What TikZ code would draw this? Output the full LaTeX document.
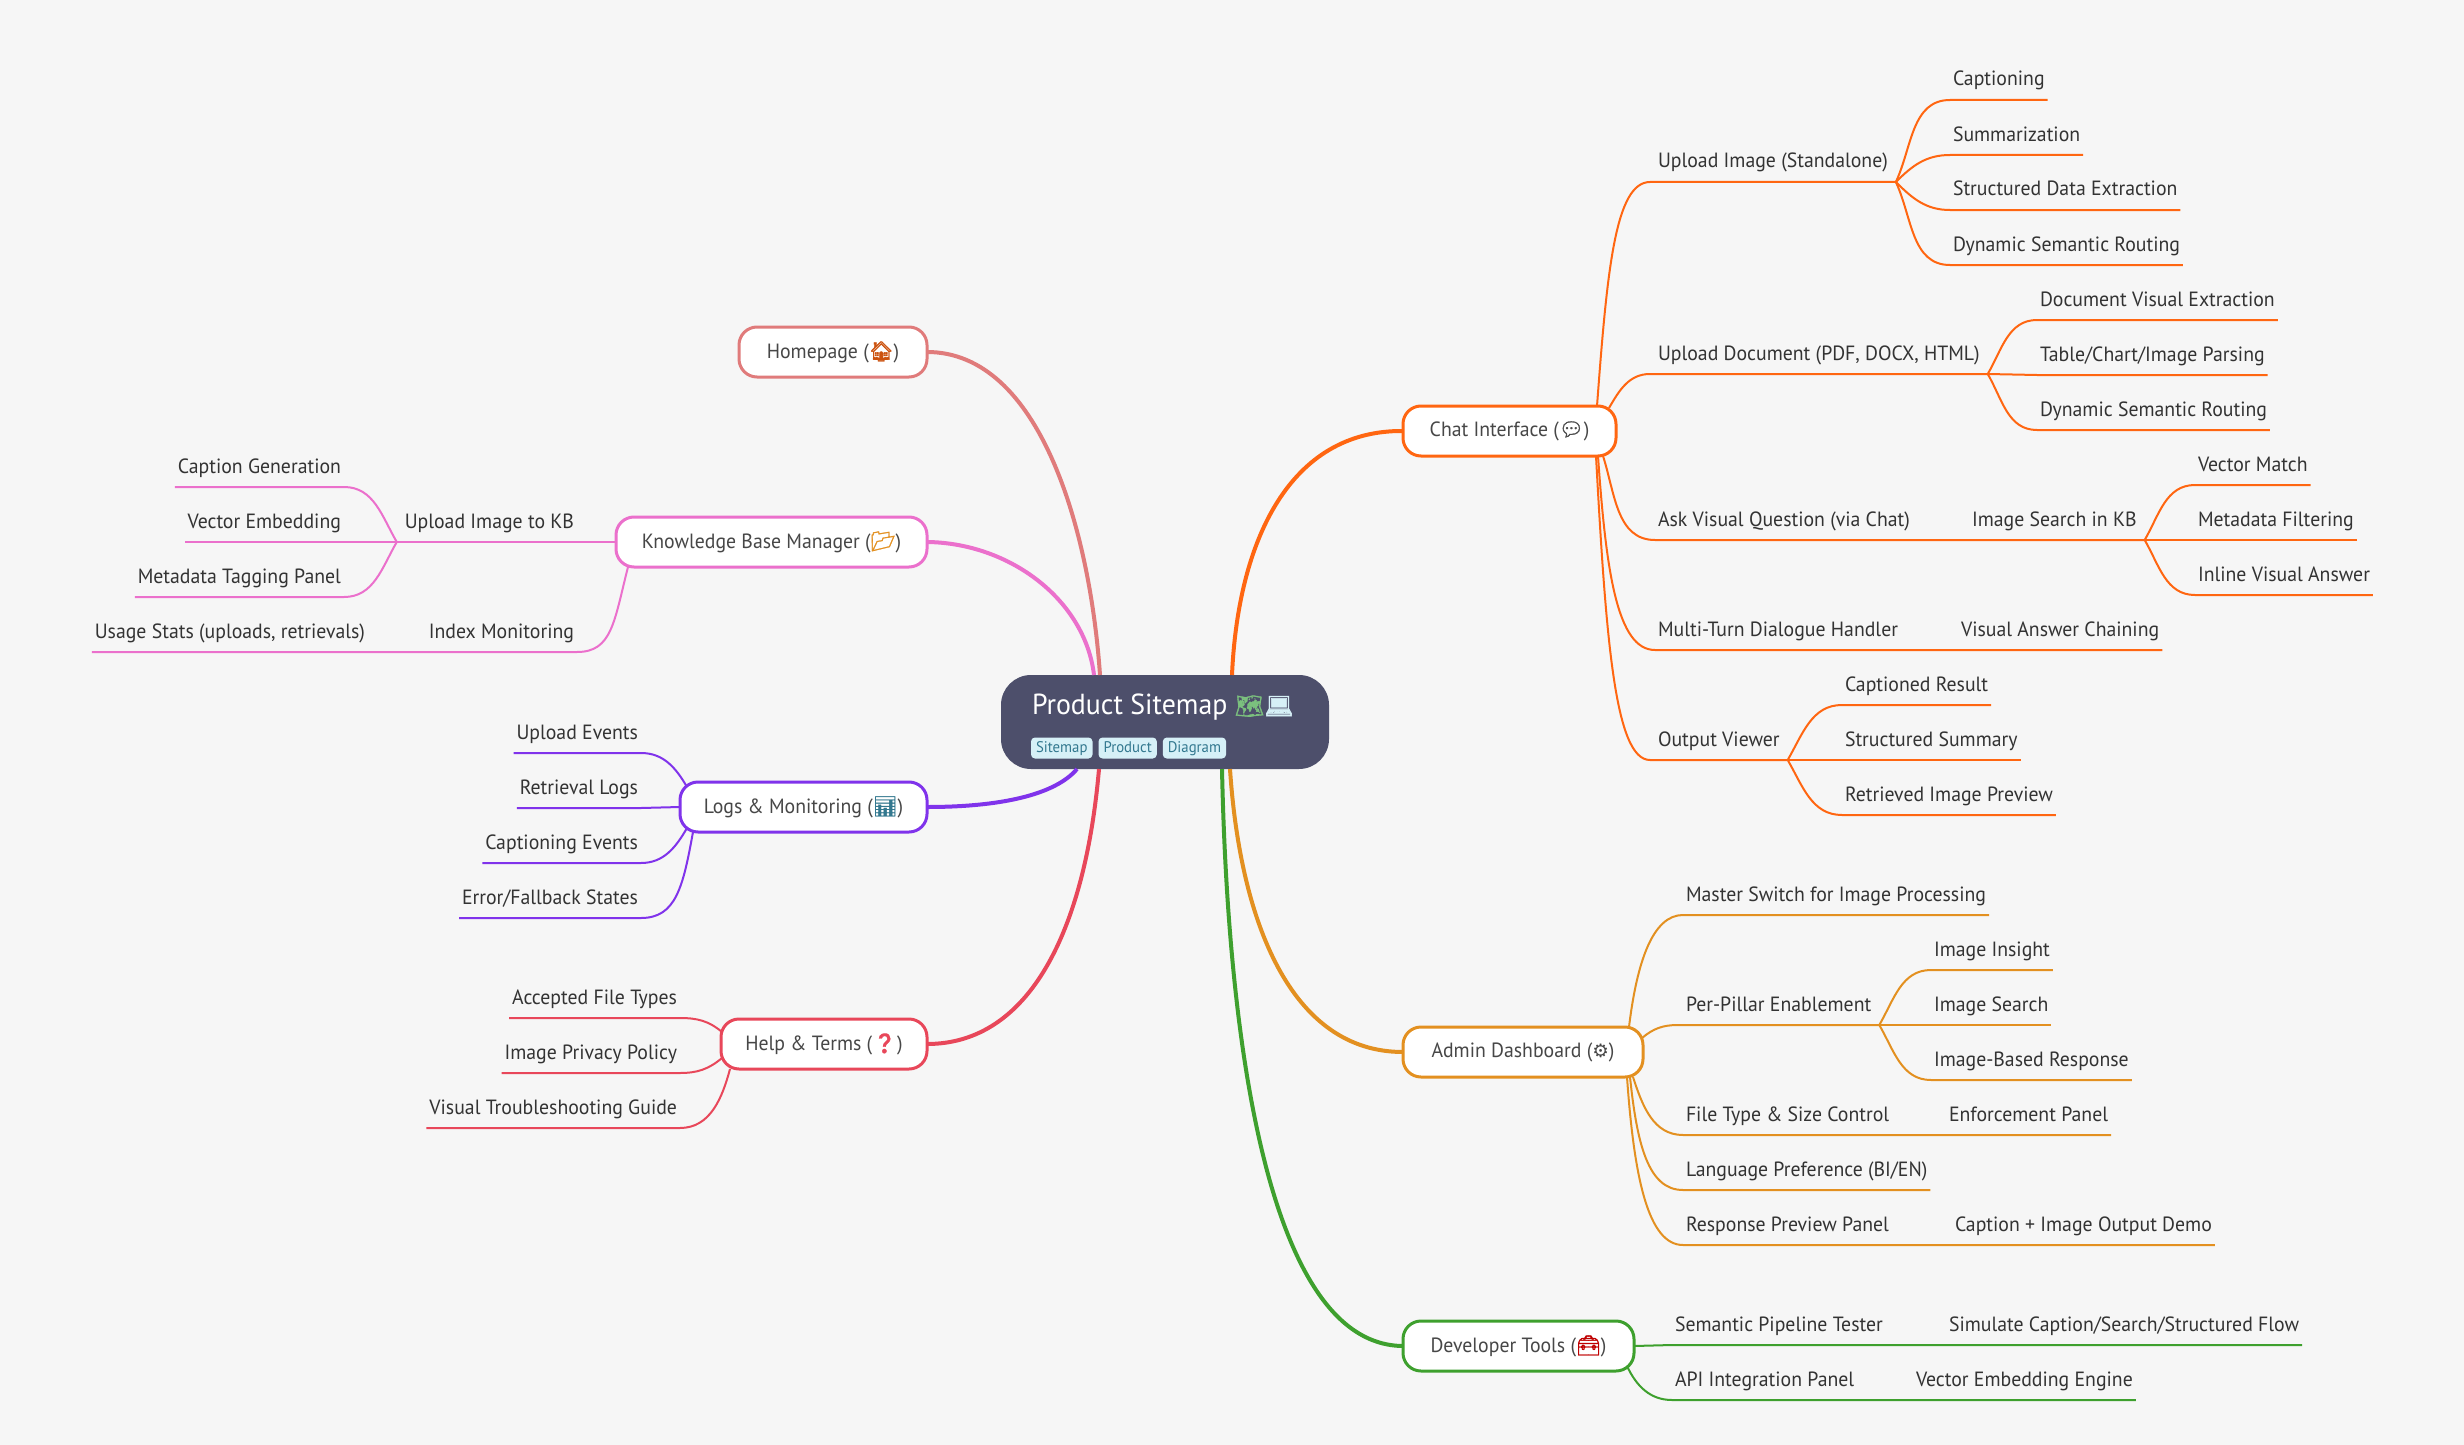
\documentclass[tikz,border=0pt]{standalone}
\usepackage{fontspec}
\setmainfont{PT Sans}[FakeStretch=0.96]
\newfontfamily\emofont{Noto Emoji}[Scale=0.95,FakeBold=1.5]
\newfontfamily\gearfont{DejaVu Sans}[Scale=0.9]
\usetikzlibrary{positioning}
\definecolor{pagec}{HTML}{F6F6F6}
\definecolor{rootc}{HTML}{4D4F6B}
\definecolor{tagc}{HTML}{D6F0F7}
\definecolor{tagtext}{HTML}{33788F}
\definecolor{homec}{HTML}{E07B7B}
\definecolor{kbc}{HTML}{EB70CC}
\definecolor{logc}{HTML}{8033EB}
\definecolor{helpc}{HTML}{E8475A}
\definecolor{chatc}{HTML}{FF6611}
\definecolor{adminc}{HTML}{E39020}
\definecolor{devc}{HTML}{3EA02E}
\newcommand{\emo}[2]{\textcolor{#1}{\emofont #2}}
\begin{document}
\begin{tikzpicture}[
  x=0.5pt,y=-0.5pt,
  every node/.style={outer sep=0pt},
  rootbox/.style={
    fill=rootc,
    rounded corners=15pt,
    minimum width=164pt,
    minimum height=47pt},
  tagbox/.style={
    fill=tagc,
    text=tagtext,
    rounded corners=2pt,
    inner xsep=2.5pt,
    inner ysep=1pt,
    text height=6.5pt,
    text depth=2pt,
    font=\fontsize{7.7pt}{9pt}\selectfont},
  topic/.style={
    draw,
    fill=white,
    line width=1.5pt,
    rounded corners=9pt,
    minimum height=25pt,
    inner xsep=0pt,
    text=black!72,
    font=\fontsize{10.3pt}{12pt}\selectfont},
  leaf/.style={
    inner xsep=1.5pt,
    inner ysep=0pt,
    text depth=7pt,
    text=black!80,
    font=\fontsize{10.3pt}{12pt}\selectfont},
  stem/.style={leaf,inner xsep=4pt},
  trunk/.style={line width=2pt},
  twig/.style={line width=1pt}
  ]
    \path[use as bounding box,fill=pagec] (0,0) rectangle (2464,1445);

    % centre
    \node[rootbox] (root) at (1165,722) {};
    \node[anchor=base west,inner sep=0pt,text=white,font=\fontsize{14.5pt}{16pt}\selectfont] (title) at (1032,714)
        {Product Sitemap {\fontsize{12.2pt}{16pt}\selectfont\emo{devc!60!tagc}{🗺}\emo{tagc}{💻}}};
    \node[tagbox,anchor=west] (tag1) at (1031,748) {Sitemap};
    \node[tagbox,right=3pt of tag1] (tag2) {Product};
    \node[tagbox,right=3pt of tag2] (tag3) {Diagram};

    % topics
    \node[topic,draw=homec,anchor=east,minimum width=94pt] (home) at (927,352) {Homepage (\emo{chatc!80!black}{🏠})};
    \node[topic,draw=kbc,anchor=east,minimum width=155.5pt] (kb) at (927,542) {Knowledge Base Manager (\emo{adminc}{📂})};
    \node[topic,draw=logc,anchor=east,minimum width=123.5pt] (logs) at (927,807) {Logs \& Monitoring (\emo{tagtext}{📊})};
    \node[topic,draw=helpc,anchor=east,minimum width=103pt] (help) at (927,1044) {Help \& Terms (\emo{helpc}{❓})};
    \node[topic,draw=chatc,anchor=west,minimum width=106.5pt] (chat) at (1403,431) {Chat Interface (\emo{black!70}{💬})};
    \node[topic,draw=adminc,anchor=west,minimum width=120pt] (admin) at (1403,1052) {Admin Dashboard ({\gearfont ⚙})};
    \node[topic,draw=devc,anchor=west,minimum width=115.5pt] (dev) at (1403,1346) {Developer Tools (\emo{red!75!black}{🧰})};

    \draw[trunk,homec] (home.east) .. controls (1040,352) and (1090,530) .. ([shift={(-65,0)}]root.north);
    \draw[trunk,kbc] (kb.east) .. controls (1010,543) and (1085,600) .. ([shift={(-71,0)}]root.north);
    \draw[trunk,logc] (logs.east) .. controls (1000,807) and (1055,795) .. ([shift={(-88,0)}]root.south);
    \draw[trunk,helpc] (help.east) .. controls (1030,1044) and (1085,930) .. ([shift={(-66,0)}]root.south);
    \draw[trunk,chatc] (chat.west) .. controls (1290,430) and (1238,540) .. ([shift={(67,0)}]root.north);
    \draw[trunk,adminc] (admin.west) .. controls (1290,1052) and (1240,920) .. ([shift={(65,0)}]root.south);
    \draw[trunk,devc] (dev.west) .. controls (1270,1345) and (1228,1050) .. ([shift={(57,0)}]root.south);

    % knowledge base
    \node[stem,anchor=south east] (upkb) at (582,542) {Upload Image to KB};
    \node[leaf,anchor=south east] (capgen) at (344,487) {Caption Generation};
    \node[leaf,anchor=south east] (vecemb) at (344,542) {Vector Embedding};
    \node[leaf,anchor=south east] (metatag) at (344,597) {Metadata Tagging Panel};
    \node[leaf,anchor=south east] (indexm) at (577,652) {Index Monitoring};
    \node[leaf,anchor=south east] (usage) at (368,652) {Usage Stats (uploads, retrievals)};
    \draw[twig,kbc] (kb.west) -- (upkb.south east) -- (upkb.south west);
    \draw[twig,kbc] (upkb.south west) to[out=120,in=0] (capgen.south east) -- (capgen.south west);
    \draw[twig,kbc] (upkb.south west) -- (vecemb.south east) -- (vecemb.south west);
    \draw[twig,kbc] (upkb.south west) to[out=-120,in=0] (metatag.south east) -- (metatag.south west);
    \draw[twig,kbc] ([shift={(12,0)}]kb.south west) .. controls +(-14,55) and +(35,0) .. (indexm.south east) -- (indexm.south west)
        -- (usage.south east) -- (usage.south west);

    % logs
    \node[leaf,anchor=south east] (upev) at (641,753) {Upload Events};
    \node[leaf,anchor=south east] (relog) at (641,808) {Retrieval Logs};
    \node[leaf,anchor=south east] (capev) at (641,863) {Captioning Events};
    \node[leaf,anchor=south east] (errst) at (641,918) {Error/Fallback States};
    \draw[twig,logc] ([shift={(7,5)}]logs.north west) to[out=120,in=0] (upev.south east) -- (upev.south west);
    \draw[twig,logc] (logs.west) -- (relog.south east) -- (relog.south west);
    \draw[twig,logc] ([shift={(7,-4)}]logs.south west) to[out=-120,in=0] (capev.south east) -- (capev.south west);
    \draw[twig,logc] ([shift={(13,0)}]logs.south west) .. controls +(-10,55) and +(35,0) .. (errst.south east) -- (errst.south west);

    % help
    \node[leaf,anchor=south east] (types) at (680,1018) {Accepted File Types};
    \node[leaf,anchor=south east] (policy) at (680,1073) {Image Privacy Policy};
    \node[leaf,anchor=south east] (guide) at (680,1128) {Visual Troubleshooting Guide};
    \draw[twig,helpc] ([shift={(1,13)}]help.north west) to[out=140,in=0] (types.south east) -- (types.south west);
    \draw[twig,helpc] ([shift={(1,-11)}]help.south west) to[out=-140,in=0] (policy.south east) -- (policy.south west);
    \draw[twig,helpc] ([shift={(9,0)}]help.south west) to[out=-105,in=0] (guide.south east) -- (guide.south west);

    % chat
    \node[stem,anchor=south west] (upimg) at (1650,182) {Upload Image (Standalone)};
    \node[leaf,anchor=south west] (capt) at (1950,100) {Captioning};
    \node[leaf,anchor=south west] (summ) at (1950,155) {Summarization};
    \node[leaf,anchor=south west] (struct) at (1950,210) {Structured Data Extraction};
    \node[leaf,anchor=south west] (route) at (1950,265) {Dynamic Semantic Routing};
    \node[stem,anchor=south west] (updoc) at (1650,374) {Upload Document (PDF, DOCX, HTML)};
    \node[leaf,anchor=south west] (docvis) at (2037,320) {Document Visual Extraction};
    \node[leaf,anchor=south west] (table) at (2037,375) {Table/Chart/Image Parsing};
    \node[leaf,anchor=south west] (route2) at (2037,430) {Dynamic Semantic Routing};
    \node[leaf,anchor=south west] (askv) at (1655,540) {Ask Visual Question (via Chat)};
    \node[stem,anchor=south west] (imgs) at (1964,540) {Image Search in KB};
    \node[leaf,anchor=south west] (vecm) at (2195,485) {Vector Match};
    \node[leaf,anchor=south west] (metaf) at (2195,540) {Metadata Filtering};
    \node[leaf,anchor=south west] (inline) at (2195,595) {Inline Visual Answer};
    \node[leaf,anchor=south west] (multi) at (1655,650) {Multi-Turn Dialogue Handler};
    \node[leaf,anchor=south west] (chain) at (1958,650) {Visual Answer Chaining};
    \node[stem,anchor=south west] (outv) at (1650,760) {Output Viewer};
    \node[leaf,anchor=south west] (capres) at (1842,705) {Captioned Result};
    \node[leaf,anchor=south west] (strsum) at (1842,760) {Structured Summary};
    \node[leaf,anchor=south west] (preview) at (1842,815) {Retrieved Image Preview};
    \draw[twig,chatc] ([shift={(-19,0)}]chat.north east) .. controls +(10,-134) and +(-35,0) .. (upimg.south west) -- (upimg.south east);
    \draw[twig,chatc] (upimg.south east) to[out=65,in=180] (capt.south west) -- (capt.south east);
    \draw[twig,chatc] (upimg.south east) to[out=45,in=180] (summ.south west) -- (summ.south east);
    \draw[twig,chatc] (upimg.south east) to[out=-45,in=180] (struct.south west) -- (struct.south east);
    \draw[twig,chatc] (upimg.south east) to[out=-65,in=180] (route.south west) -- (route.south east);
    \draw[twig,chatc] ([shift={(-7,2)}]chat.north east) to[out=60,in=180] (updoc.south west) -- (updoc.south east);
    \draw[twig,chatc] (updoc.south east) to[out=60,in=180] (docvis.south west) -- (docvis.south east);
    \draw[twig,chatc] (updoc.south east) -- (table.south west) -- (table.south east);
    \draw[twig,chatc] (updoc.south east) to[out=-60,in=180] (route2.south west) -- (route2.south east);
    \draw[twig,chatc] ([shift={(-13,0)}]chat.south east) to[out=-72,in=180] (askv.south west) -- (askv.south east)
        -- (imgs.south west) -- (imgs.south east);
    \draw[twig,chatc] (imgs.south east) to[out=60,in=180] (vecm.south west) -- (vecm.south east);
    \draw[twig,chatc] (imgs.south east) -- (metaf.south west) -- (metaf.south east);
    \draw[twig,chatc] (imgs.south east) to[out=-60,in=180] (inline.south west) -- (inline.south east);
    \draw[twig,chatc] ([shift={(-18,0)}]chat.south east) .. controls +(8,115) and +(-38,0) .. (multi.south west) -- (multi.south east)
        -- (chain.south west) -- (chain.south east);
    \draw[twig,chatc] ([shift={(-20,0)}]chat.south east) .. controls +(10,184) and +(-35,0) .. (outv.south west) -- (outv.south east);
    \draw[twig,chatc] (outv.south east) to[out=60,in=180] (capres.south west) -- (capres.south east);
    \draw[twig,chatc] (outv.south east) -- (strsum.south west) -- (strsum.south east);
    \draw[twig,chatc] (outv.south east) to[out=-60,in=180] (preview.south west) -- (preview.south east);

    % admin
    \node[leaf,anchor=south west] (master) at (1683,915) {Master Switch for Image Processing};
    \node[stem,anchor=south west] (pillar) at (1678,1025) {Per-Pillar Enablement};
    \node[leaf,anchor=south west] (insight) at (1931,970) {Image Insight};
    \node[leaf,anchor=south west] (isearch) at (1931,1025) {Image Search};
    \node[leaf,anchor=south west] (ibased) at (1931,1080) {Image-Based Response};
    \node[leaf,anchor=south west] (ftype) at (1683,1135) {File Type \& Size Control};
    \node[leaf,anchor=south west] (enforce) at (1946,1135) {Enforcement Panel};
    \node[leaf,anchor=south west] (lang) at (1683,1190) {Language Preference (BI/EN)};
    \node[leaf,anchor=south west] (respv) at (1683,1245) {Response Preview Panel};
    \node[leaf,anchor=south west] (demo) at (1952,1245) {Caption + Image Output Demo};
    \draw[twig,adminc] ([shift={(-14,0)}]admin.north east) .. controls +(8,-66) and +(-30,0) .. (master.south west) -- (master.south east);
    \draw[twig,adminc] ([shift={(-1,11)}]admin.north east) to[out=40,in=180] (pillar.south west) -- (pillar.south east);
    \draw[twig,adminc] (pillar.south east) to[out=60,in=180] (insight.south west) -- (insight.south east);
    \draw[twig,adminc] (pillar.south east) -- (isearch.south west) -- (isearch.south east);
    \draw[twig,adminc] (pillar.south east) to[out=-60,in=180] (ibased.south west) -- (ibased.south east);
    \draw[twig,adminc] ([shift={(-10,0)}]admin.south east) to[out=-72,in=180] (ftype.south west) -- (ftype.south east)
        -- (enforce.south west) -- (enforce.south east);
    \draw[twig,adminc] ([shift={(-13,0)}]admin.south east) .. controls +(7,67) and +(-35,0) .. (lang.south west) -- (lang.south east);
    \draw[twig,adminc] ([shift={(-16,0)}]admin.south east) .. controls +(7,100) and +(-35,0) .. (respv.south west) -- (respv.south east)
        -- (demo.south west) -- (demo.south east);

    % developer
    \node[leaf,anchor=south west] (pipe) at (1672,1345) {Semantic Pipeline Tester};
    \node[leaf,anchor=south west] (sim) at (1946,1345) {Simulate Caption/Search/Structured Flow};
    \node[leaf,anchor=south west] (api) at (1672,1400) {API Integration Panel};
    \node[leaf,anchor=south west] (engine) at (1913,1400) {Vector Embedding Engine};
    \draw[twig,devc] (dev.east) -- (pipe.south west) -- (pipe.south east) -- (sim.south west) -- (sim.south east);
    \draw[twig,devc] ([shift={(-7,-5)}]dev.south east) to[out=-65,in=180] (api.south west) -- (api.south east)
        -- (engine.south west) -- (engine.south east);
    \end{tikzpicture}
\end{document}
